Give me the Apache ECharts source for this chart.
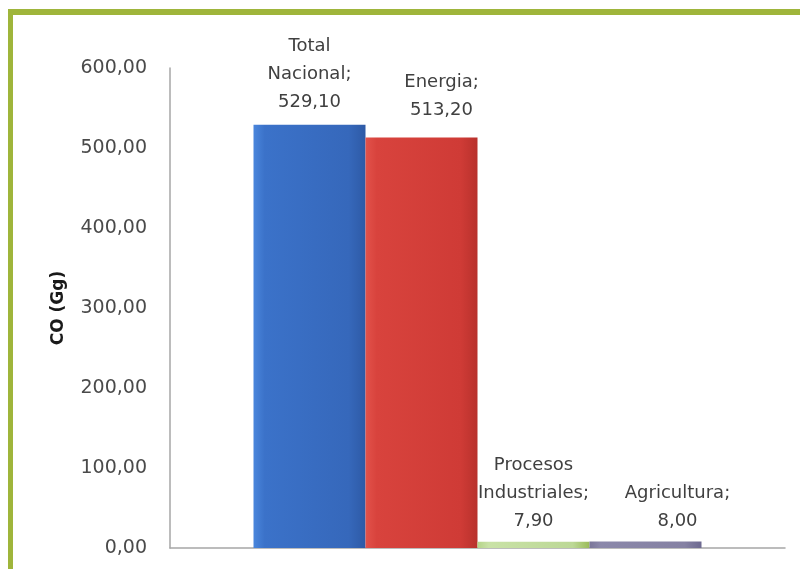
<!DOCTYPE html>
<html>
<head>
<meta charset="utf-8">
<script src="https://cdn.jsdelivr.net/npm/echarts@6/dist/echarts.min.js"></script>
<style>
html,body{margin:0;padding:0;background:#fff;}
#c{width:800px;height:569px;}
</style>
</head>
<body>
<div id="c"></div>
<script>
// Data
var seriesNames = ['Total Nacional', 'Energia', 'Procesos Industriales', 'Agricultura'];
var labelNames = ['Total\nNacional;', 'Energia;', 'Procesos\nIndustriales;', 'Agricultura;'];
var values = [529.10, 513.20, 7.90, 8.00];
var yTicks = [0, 100, 200, 300, 400, 500, 600];
var yTitle = 'CO (Gg)';

var fills = [
  ['#4a86dc', '#3b72c9', '#3668bb', '#2e5aa6'],
  ['#e2524b', '#d8433d', '#cf3b36', '#b8312c'],
  ['#b5d48a', '#c9e2a6', '#bcd896', '#9bbb59'],
  ['#7a7699', '#8b88aa', '#8581a3', '#6d6990']
];
var labelOffsets = [[0, -2], [20, -7], [0, 0], [32, 0]];

function fmt(v) { return v.toFixed(2).replace('.', ','); }

var series = seriesNames.map(function (n, i) {
  var f = fills[i];
  return {
    name: n,
    type: 'bar',
    barWidth: 112,
    barGap: '0%',
    data: [values[i]],
    itemStyle: {
      color: {
        type: 'linear', x: 0, y: 0, x2: 1, y2: 0,
        colorStops: [
          {offset: 0, color: f[0]},
          {offset: 0.1, color: f[1]},
          {offset: 0.85, color: f[2]},
          {offset: 1, color: f[3]}
        ]
      }
    },
    label: {
      show: true,
      position: 'top',
      distance: 6,
      offset: labelOffsets[i],
      formatter: function () { return labelNames[i] + '\n' + fmt(values[i]); },
      fontFamily: 'DejaVu Sans',
      fontSize: 18,
      lineHeight: 28,
      color: '#404040',
      align: 'center'
    }
  };
});

var chart = echarts.init(document.getElementById('c'));
chart.setOption({
  backgroundColor: '#ffffff',
  animation: false,
  grid: {left: 170, right: 15, top: 68, bottom: 21, containLabel: false},
  xAxis: {
    type: 'category',
    data: [''],
    axisLine: {show: true, lineStyle: {color: '#a6a6a6', width: 1.5}},
    axisTick: {show: false},
    axisLabel: {show: false},
    splitLine: {show: false}
  },
  yAxis: {
    type: 'value',
    min: yTicks[0],
    max: yTicks[yTicks.length - 1],
    interval: yTicks[1] - yTicks[0],
    name: yTitle,
    nameLocation: 'middle',
    nameRotate: 90,
    nameGap: 103,
    nameTextStyle: {fontFamily: 'DejaVu Sans', fontSize: 17, fontWeight: 'bold', color: '#1a1a1a'},
    axisLine: {show: true, lineStyle: {color: '#a6a6a6', width: 1.5}},
    axisTick: {show: false},
    splitLine: {show: false},
    axisLabel: {
      formatter: function (v) { return fmt(v); },
      fontFamily: 'DejaVu Sans',
      fontSize: 19,
      color: '#4a4a4a',
      margin: 23
    }
  },
  graphic: [
    {type: 'rect', left: 8, top: 9, shape: {width: 792, height: 6}, style: {fill: '#9fb53b'}, z: 100},
    {type: 'rect', left: 8, top: 9, shape: {width: 5, height: 560}, style: {fill: '#9fb53b'}, z: 100}
  ],
  series: series
});
</script>
</body>
</html>
